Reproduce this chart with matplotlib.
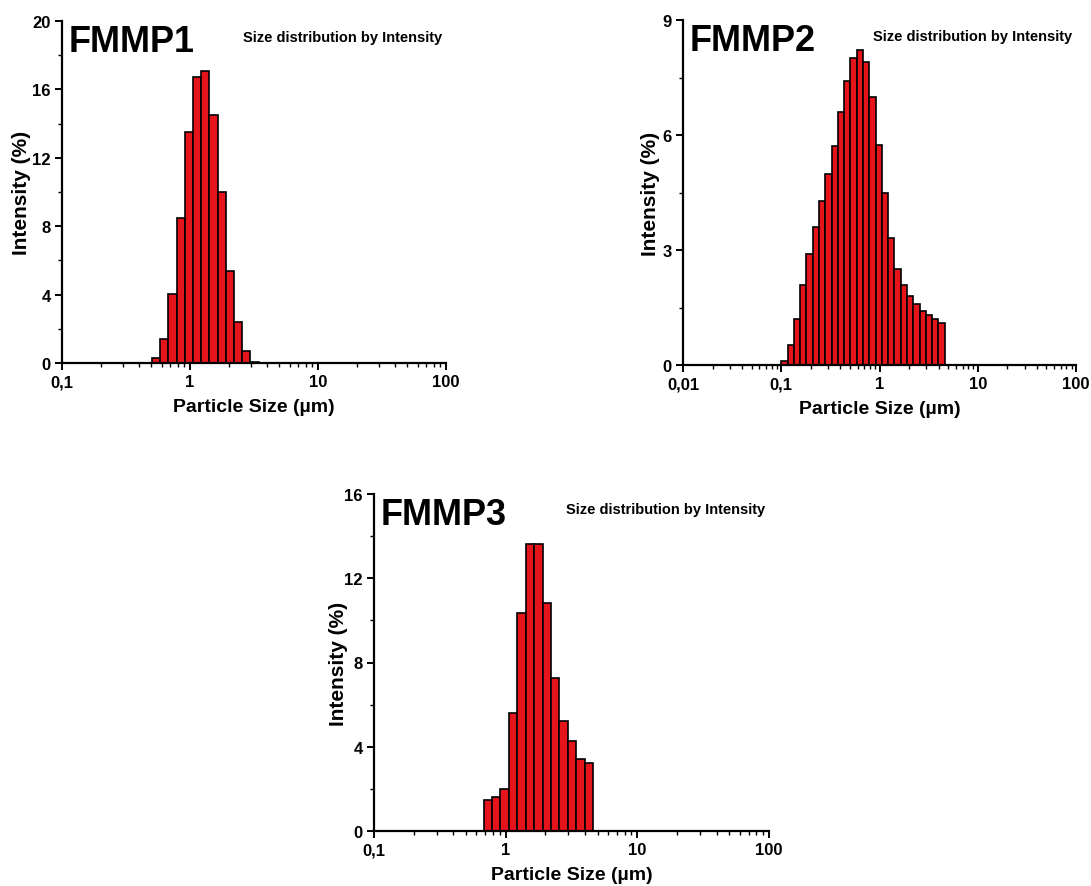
import numpy as np
import matplotlib
matplotlib.use("Agg")
import matplotlib.pyplot as plt
from matplotlib.ticker import FixedLocator, FixedFormatter, LogLocator, NullFormatter

FONT = ['Liberation Sans Narrow', 'Liberation Sans', 'DejaVu Sans']
plt.rcParams['font.family'] = FONT
plt.rcParams['font.weight'] = 'bold'

# ---------------- data ----------------
size1 = [0.545, 0.631, 0.731, 0.847, 0.982, 1.138, 1.318, 1.528, 1.770, 2.051, 2.377, 2.755, 3.192]
int1 = [0.27, 1.4, 4.04, 8.5, 13.5, 16.7, 17.1, 14.5, 10.0, 5.4, 2.4, 0.7, 0.08]

size2 = [0.1076, 0.1247, 0.1445, 0.1675, 0.1941, 0.2249, 0.2606, 0.3020, 0.3499,
         0.4055, 0.4699, 0.5445, 0.6310, 0.7312, 0.8473, 0.9818, 1.1377, 1.3184,
         1.5277, 1.7703, 2.0514, 2.3772, 2.7547, 3.1921, 3.6990, 4.2864]
int2 = [0.11, 0.51, 1.20, 2.10, 2.89, 3.60, 4.29, 4.99, 5.72, 6.60, 7.40, 8.00,
        8.21, 7.90, 7.00, 5.75, 4.49, 3.31, 2.50, 2.10, 1.79, 1.60, 1.41, 1.30,
        1.19, 1.10]

size3 = [0.7312, 0.8473, 0.9818, 1.1377, 1.3184, 1.5277, 1.7703, 2.0514, 2.3772,
         2.7547, 3.1921, 3.6990, 4.2864]
int3 = [1.49, 1.61, 2.01, 5.61, 10.34, 13.63, 13.63, 10.81, 7.27, 5.22, 4.25, 3.42, 3.23]

xt1 = [0.1, 1, 10, 100]; xl1 = ['0,1', '1', '10', '100']
xt2 = [0.01, 0.1, 1, 10, 100]; xl2 = ['0,01', '0,1', '1', '10', '100']
yt1 = [0, 4, 8, 12, 16, 20]
yt2 = [0, 3, 6, 9]
yt3 = [0, 4, 8, 12, 16]

names = ['FMMP1', 'FMMP2', 'FMMP3']
subtitle = 'Size distribution by Intensity'
xlabel = 'Particle Size (\u00b5m)'
ylabel = 'Intensity (%)'

BAR = '#E5141B'

W, H = 1091, 887
fig = plt.figure(figsize=(W / 100, H / 100), dpi=100)


def px_axes(l, t, r, b):
    return fig.add_axes([l / W, 1 - b / H, (r - l) / W, (b - t) / H]), (r - l), (b - t)


def panel(axinfo, sizes, vals, xt, xl, yt, name, ylab_off):
    ax, wpx, hpx = axinfo
    s = np.array(sizes, dtype=float)
    ls = np.log10(s)
    mids = (ls[1:] + ls[:-1]) / 2
    left = np.concatenate([[ls[0] - (mids[0] - ls[0])], mids])
    right = np.concatenate([mids, [ls[-1] + (ls[-1] - mids[-1])]])
    le, re = 10 ** left, 10 ** right
    ax.bar(le, vals, width=re - le, align='edge', color=BAR,
           edgecolor='black', linewidth=1.2, zorder=2)
    ax.set_xscale('log')
    ax.set_xlim(xt[0], xt[-1])
    ax.set_ylim(yt[0], yt[-1])
    ax.xaxis.set_major_locator(FixedLocator(xt))
    ax.xaxis.set_major_formatter(FixedFormatter(xl))
    ax.xaxis.set_minor_locator(LogLocator(base=10, subs=np.arange(2, 10), numticks=20))
    ax.xaxis.set_minor_formatter(NullFormatter())
    ax.yaxis.set_major_locator(FixedLocator(yt))
    ax.yaxis.set_major_formatter(FixedFormatter([str(v) for v in yt]))
    step = yt[1] - yt[0]
    ax.yaxis.set_minor_locator(FixedLocator([v + step / 2 for v in yt[:-1]]))
    for sp in ['top', 'right']:
        ax.spines[sp].set_visible(False)
    for sp in ['left', 'bottom']:
        ax.spines[sp].set_linewidth(1.6)
    ax.tick_params(which='major', direction='out', length=5, width=1.4,
                   labelsize=12, pad=3)
    ax.tick_params(which='minor', direction='out', length=3, width=1.0)
    for lab in ax.get_xticklabels() + ax.get_yticklabels():
        lab.set_fontweight('bold')
    ax.set_xlabel(xlabel, fontsize=14, fontweight='bold', va='center')
    ax.xaxis.set_label_coords(0.5, -44 / hpx)
    ax.set_ylabel(ylabel, fontsize=15, fontweight='bold', va='center')
    ax.yaxis.set_label_coords(-ylab_off / wpx, 0.5)
    ax.text(0.018, 0.99, name, transform=ax.transAxes, fontsize=26,
            fontweight='bold', va='top', ha='left')
    ax.text(0.99, 0.975, subtitle, transform=ax.transAxes, fontsize=10.5,
            fontweight='bold', va='top', ha='right')


ax1 = px_axes(62, 22, 446, 364)
panel(ax1, size1, int1, xt1, xl1, yt1, names[0], 40)
ax2 = px_axes(683, 21, 1076, 366)
panel(ax2, size2, int2, xt2, xl2, yt2, names[1], 32)
ax3 = px_axes(374, 495, 769, 832)
panel(ax3, size3, int3, xt1, xl1, yt3, names[2], 36)

fig.savefig('out.png', dpi=100)
